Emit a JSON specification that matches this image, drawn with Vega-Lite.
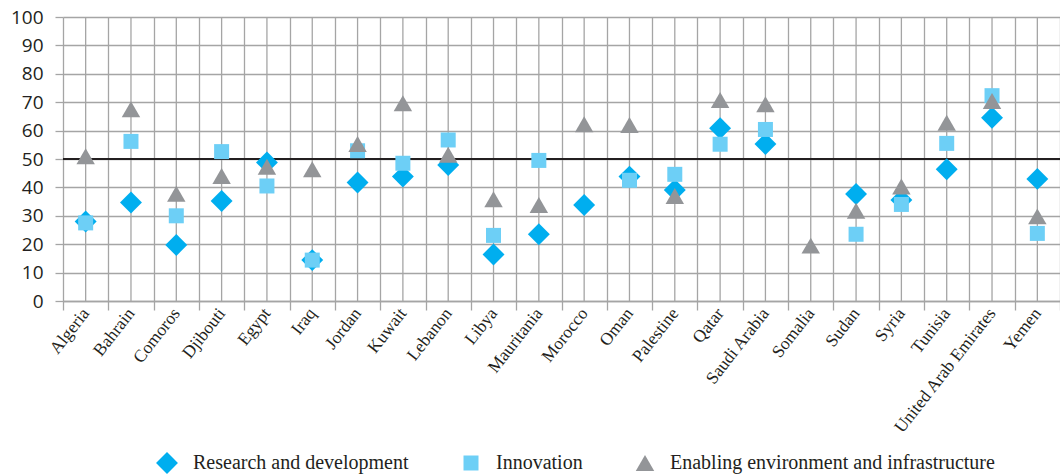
{
  "$schema": "https://vega.github.io/schema/vega-lite/v6.json",
  "width": 997,
  "height": 284,
  "autosize": {"type": "none"},
  "padding": {"left": 63, "top": 17, "right": 0, "bottom": 175},
  "background": "white",
  "config": {
    "view": {"stroke": null},
    "axis": {"gridColor": "#a5a5a5", "gridWidth": 1.3, "tickColor": "#a5a5a5", "tickWidth": 1.3, "domainColor": "#a5a5a5", "domainWidth": 1.3},
    "axisY": {
      "title": null,
      "values": [0, 10, 20, 30, 40, 50, 60, 70, 80, 90, 100],
      "grid": true,
      "ticks": true,
      "tickSize": 8,
      "domain": false,
      "labelOverlap": false,
      "labelPadding": 12,
      "labelFont": "Open Sans",
      "labelFontSize": 19,
      "labelColor": "#231f20"
    }
  },
  "datasets": {
    "scores": [
      {"country": "Algeria", "series": "Research and development", "value": 28},
      {"country": "Bahrain", "series": "Research and development", "value": 34.7},
      {"country": "Comoros", "series": "Research and development", "value": 19.7},
      {"country": "Djibouti", "series": "Research and development", "value": 35.2},
      {"country": "Egypt", "series": "Research and development", "value": 48.8},
      {"country": "Iraq", "series": "Research and development", "value": 14.4},
      {"country": "Jordan", "series": "Research and development", "value": 41.7},
      {"country": "Kuwait", "series": "Research and development", "value": 43.8},
      {"country": "Lebanon", "series": "Research and development", "value": 47.9},
      {"country": "Libya", "series": "Research and development", "value": 16.4},
      {"country": "Mauritania", "series": "Research and development", "value": 23.5},
      {"country": "Morocco", "series": "Research and development", "value": 33.8},
      {"country": "Oman", "series": "Research and development", "value": 43.8},
      {"country": "Palestine", "series": "Research and development", "value": 39.1},
      {"country": "Qatar", "series": "Research and development", "value": 60.8},
      {"country": "Saudi Arabia", "series": "Research and development", "value": 55.3},
      {"country": "Sudan", "series": "Research and development", "value": 37.7},
      {"country": "Syria", "series": "Research and development", "value": 35.6},
      {"country": "Tunisia", "series": "Research and development", "value": 46.4},
      {"country": "United Arab Emirates", "series": "Research and development", "value": 64.5},
      {"country": "Yemen", "series": "Research and development", "value": 43},
      {"country": "Algeria", "series": "Innovation", "value": 27.5},
      {"country": "Bahrain", "series": "Innovation", "value": 56.2},
      {"country": "Comoros", "series": "Innovation", "value": 30},
      {"country": "Djibouti", "series": "Innovation", "value": 52.6},
      {"country": "Egypt", "series": "Innovation", "value": 40.5},
      {"country": "Iraq", "series": "Innovation", "value": 14.4},
      {"country": "Jordan", "series": "Innovation", "value": 52.9},
      {"country": "Kuwait", "series": "Innovation", "value": 48.5},
      {"country": "Lebanon", "series": "Innovation", "value": 56.7},
      {"country": "Libya", "series": "Innovation", "value": 23.1},
      {"country": "Mauritania", "series": "Innovation", "value": 49.5},
      {"country": "Oman", "series": "Innovation", "value": 42.5},
      {"country": "Palestine", "series": "Innovation", "value": 44.6},
      {"country": "Qatar", "series": "Innovation", "value": 55.2},
      {"country": "Saudi Arabia", "series": "Innovation", "value": 60.4},
      {"country": "Sudan", "series": "Innovation", "value": 23.5},
      {"country": "Syria", "series": "Innovation", "value": 34},
      {"country": "Tunisia", "series": "Innovation", "value": 55.5},
      {"country": "United Arab Emirates", "series": "Innovation", "value": 72.3},
      {"country": "Yemen", "series": "Innovation", "value": 23.8},
      {"country": "Algeria", "series": "Enabling environment and infrastructure", "value": 51},
      {"country": "Bahrain", "series": "Enabling environment and infrastructure", "value": 67.5},
      {"country": "Comoros", "series": "Enabling environment and infrastructure", "value": 37.8},
      {"country": "Djibouti", "series": "Enabling environment and infrastructure", "value": 44},
      {"country": "Egypt", "series": "Enabling environment and infrastructure", "value": 47.3},
      {"country": "Iraq", "series": "Enabling environment and infrastructure", "value": 46.4},
      {"country": "Jordan", "series": "Enabling environment and infrastructure", "value": 55.3},
      {"country": "Kuwait", "series": "Enabling environment and infrastructure", "value": 69.6},
      {"country": "Lebanon", "series": "Enabling environment and infrastructure", "value": 51.5},
      {"country": "Libya", "series": "Enabling environment and infrastructure", "value": 35.8},
      {"country": "Mauritania", "series": "Enabling environment and infrastructure", "value": 33.8},
      {"country": "Morocco", "series": "Enabling environment and infrastructure", "value": 62.2},
      {"country": "Oman", "series": "Enabling environment and infrastructure", "value": 62},
      {"country": "Palestine", "series": "Enabling environment and infrastructure", "value": 37},
      {"country": "Qatar", "series": "Enabling environment and infrastructure", "value": 70.8},
      {"country": "Saudi Arabia", "series": "Enabling environment and infrastructure", "value": 69.3},
      {"country": "Somalia", "series": "Enabling environment and infrastructure", "value": 19.5},
      {"country": "Sudan", "series": "Enabling environment and infrastructure", "value": 31.8},
      {"country": "Syria", "series": "Enabling environment and infrastructure", "value": 40.3},
      {"country": "Tunisia", "series": "Enabling environment and infrastructure", "value": 62.8},
      {"country": "United Arab Emirates", "series": "Enabling environment and infrastructure", "value": 70.4},
      {"country": "Yemen", "series": "Enabling environment and infrastructure", "value": 29.8}
    ]
  },
  "data": {"name": "scores"},
  "layer": [
    {
      "transform": [{"aggregate": [{"op": "count", "as": "n"}], "groupby": ["country"]}],
      "mark": {"type": "rule", "color": "#a5a5a5", "strokeWidth": 1.3},
      "encoding": {
        "x": {"field": "country", "type": "nominal"}
      }
    },
    {
      "mark": {"type": "rule", "color": "#231f20", "strokeWidth": 2},
      "encoding": {"y": {"datum": 50, "type": "quantitative"}}
    },
    {
      "mark": {"type": "point", "filled": true, "opacity": 1},
      "encoding": {
        "x": {
          "field": "country",
          "type": "nominal",
          "scale": {
            "domain": ["Algeria", "Bahrain", "Comoros", "Djibouti", "Egypt", "Iraq", "Jordan", "Kuwait", "Lebanon", "Libya", "Mauritania", "Morocco", "Oman", "Palestine", "Qatar", "Saudi Arabia", "Somalia", "Sudan", "Syria", "Tunisia", "United Arab Emirates", "Yemen"],
            "paddingInner": 0,
            "paddingOuter": 0
          },
          "axis": {
            "title": null,
            "tickBand": "extent",
            "grid": true,
            "ticks": true,
            "tickSize": 9,
            "domain": true,
            "labelAngle": -52,
            "labelAlign": "right",
            "labelBaseline": "middle",
            "labelPadding": 0,
            "labelFont": "Liberation Serif",
            "labelFontSize": 17.5,
            "labelColor": "#231f20"
          }
        },
        "y": {
          "field": "value",
          "type": "quantitative",
          "scale": {"domain": [0, 100], "nice": false, "zero": true}
        },
        "color": {
          "field": "series",
          "type": "nominal",
          "scale": {
            "domain": ["Research and development", "Innovation", "Enabling environment and infrastructure"],
            "range": ["#00aeef", "#6dcff6", "#939598"]
          },
          "legend": {
            "title": null,
            "orient": "none",
            "direction": "horizontal",
            "legendX": 93,
            "legendY": 435,
            "symbolSize": 210,
            "symbolStrokeWidth": 0,
            "labelOffset": 15,
            "columnPadding": 52,
            "labelFont": "Liberation Serif",
            "labelFontSize": 20,
            "labelColor": "#231f20",
            "labelLimit": 400
          }
        },
        "shape": {
          "field": "series",
          "type": "nominal",
          "scale": {
            "domain": ["Research and development", "Innovation", "Enabling environment and infrastructure"],
            "range": ["diamond", "square", "triangle-up"]
          },
          "legend": {
            "title": null,
            "orient": "none",
            "direction": "horizontal",
            "legendX": 93,
            "legendY": 435,
            "symbolSize": 210,
            "symbolStrokeWidth": 0,
            "labelOffset": 15,
            "columnPadding": 52,
            "labelFont": "Liberation Serif",
            "labelFontSize": 20,
            "labelColor": "#231f20",
            "labelLimit": 400
          }
        },
        "size": {
          "field": "series",
          "type": "nominal",
          "scale": {
            "type": "ordinal",
            "domain": ["Research and development", "Innovation", "Enabling environment and infrastructure"],
            "range": [480, 225, 340]
          },
          "legend": null
        }
      }
    }
  ]
}
